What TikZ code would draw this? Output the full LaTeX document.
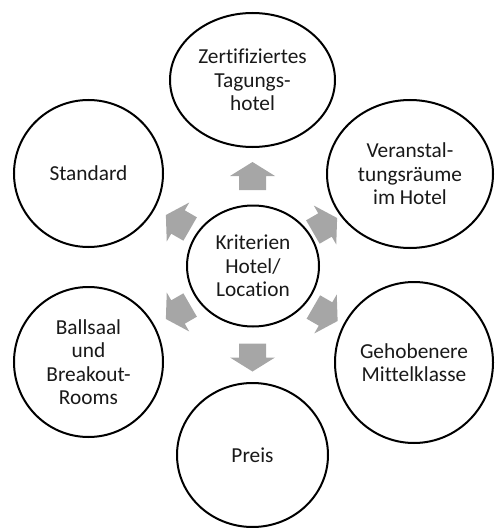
\documentclass[tikz,border=0pt]{standalone}
\usepackage{fontspec}
\setmainfont{Carlito}[Ligatures=NoCommon]
\usetikzlibrary{shapes.geometric}
\definecolor{arrowgrey}{RGB}{166,166,166}
\begin{document}
\begin{tikzpicture}[x=0.75pt,y=-0.75pt,
  bubble/.style={ellipse, draw=black, line width=1.5pt, fill=white, inner sep=0pt,
    align=center, font=\fontsize{16}{17.6}\selectfont, text=black!90},
  pics/blockarrow/.style={code={
    \fill[arrowgrey] (-14,-13.5) -- (0,-13.5) -- (0,-22.5) -- (14,0)
      -- (0,22.5) -- (0,13.5) -- (-14,13.5) -- cycle;}}]
\useasboundingbox (0,0) rectangle (494,528);

% centre and surrounding criteria
\node[bubble, minimum width=132*0.75pt, minimum height=121*0.75pt] (ctr) at (253,266) {Kriterien\\Hotel/\\Location};
\node[bubble, minimum width=165*0.75pt, minimum height=134*0.75pt] (top) at (252.5,80) {Zertifiziertes\\Tagungs-\\hotel};
\node[bubble, minimum width=166*0.75pt, minimum height=148*0.75pt] (ur) at (410,174) {Veranstal-\\tungsräume\\im Hotel};
\node[bubble, minimum width=158*0.75pt, minimum height=161*0.75pt] (lr) at (414,362.5) {Gehobenere\\Mittelklasse};
\node[bubble, minimum width=151*0.75pt, minimum height=144*0.75pt] (bot) at (252.5,455) {Preis};
\node[bubble, minimum width=149*0.75pt, minimum height=150*0.75pt] (ll) at (88.5,362) {Ballsaal\\und\\Breakout-\\Rooms};
\node[bubble, minimum width=149*0.75pt, minimum height=147*0.75pt] (ul) at (88.5,173.5) {Standard};

% outward block arrows
\pic[rotate=90]  at (252.5,176)   {blockarrow};
\pic[rotate=30]  at (325,225)     {blockarrow};
\pic[rotate=-30] at (325.5,314)   {blockarrow};
\pic[rotate=-90] at (252.5,357.5) {blockarrow};
\pic[rotate=210] at (178,312)     {blockarrow};
\pic[rotate=150] at (178,222)     {blockarrow};
\end{tikzpicture}
\end{document}
